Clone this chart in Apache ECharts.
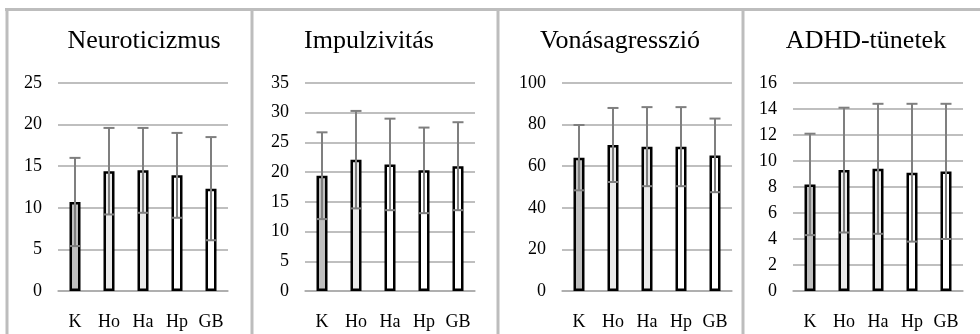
<!DOCTYPE html>
<html>
<head>
<meta charset="utf-8">
<script src="https://cdn.jsdelivr.net/npm/echarts@6/dist/echarts.min.js"></script>
<style>
  html, body { margin: 0; padding: 0; background: #fff; }
  #main { width: 980px; height: 334px; }
</style>
</head>
<body>
<div id="main"></div>
<script>
// csoportok
var groups = ['K', 'Ho', 'Ha', 'Hp', 'GB'];
var titles = ['Neuroticizmus', 'Impulzivitás', 'Vonásagresszió', 'ADHD-tünetek'];

// átlagok és szórások (leolvasva)
var neuroMean = [10.7, 14.4, 14.5, 13.9, 12.3];
var neuroSd   = [5.3, 5.2, 5.1, 5.1, 6.2];
var impMean   = [19.4, 22.1, 21.3, 20.3, 21.0];
var impSd     = [7.3, 8.2, 7.7, 7.2, 7.4];
var aggMean   = [64.1, 70.2, 69.4, 69.4, 65.2];
var aggSd     = [15.7, 17.8, 19.0, 19.0, 17.7];
var adhdMean  = [8.2, 9.3, 9.4, 9.1, 9.2];
var adhdSd    = [3.9, 4.8, 5.0, 5.3, 5.2];

// tengely skálák
var yMax  = [25, 35, 100, 16];
var yStep = [5, 5, 20, 2];

var means = [neuroMean, impMean, aggMean, adhdMean];
var sds = [neuroSd, impSd, aggSd, adhdSd];

var dark = '#bebebe', light = '#eaeaea', white = '#ffffff';
var fills = [
	[dark, light, light, white, white],
	[dark, light, white, white, white],
	[dark, light, light, white, white],
	[dark, light, light, white, white]
];

var gridLeft = [58, 305, 562, 793];
var titleX = [144, 369, 620, 866];
var font = '"Liberation Serif", "Times New Roman", serif';

var dom = document.getElementById('main');
var chart = echarts.init(dom, null, { renderer: 'canvas' });

var option = {
	animation: false,
	backgroundColor: '#fff',
	title: [],
	grid: [],
	xAxis: [],
	yAxis: [],
	series: [],
	graphic: []
};

for (var i = 0; i < 4; i++) {
	option.title.push({
		text: titles[i],
		left: titleX[i],
		top: 28,
		padding: 0,
		textAlign: 'center',
		textStyle: { fontFamily: font, fontSize: 26, fontWeight: 'normal', color: '#000' }
	});
	option.grid.push({
		left: gridLeft[i],
		top: 83,
		width: 170,
		height: 208
	});
	option.xAxis.push({
		type: 'category',
		gridIndex: i,
		data: groups,
		axisLine: { show: true, lineStyle: { color: '#aaaaaa', width: 1.5 } },
		axisTick: { show: false },
		axisLabel: { fontFamily: font, fontSize: 18, color: '#000', margin: 22 }
	});
	option.yAxis.push({
		type: 'value',
		gridIndex: i,
		min: 0,
		max: yMax[i],
		interval: yStep[i],
		axisLine: { show: false },
		axisTick: { show: false },
		splitLine: { lineStyle: { color: '#aaaaaa', width: 1.5 } },
		axisLabel: { fontFamily: font, fontSize: 18, color: '#000', margin: 16 }
	});
	option.series.push({
		type: 'bar',
		xAxisIndex: i,
		yAxisIndex: i,
		barWidth: 11,
		data: means[i].map(function (v, j) {
			return { value: v, itemStyle: { color: fills[i][j] } };
		}),
		itemStyle: { borderColor: '#000', borderWidth: 2.5 },
		z: 2
	});
	option.series.push({
		type: 'custom',
		xAxisIndex: i,
		yAxisIndex: i,
		z: 5,
		data: means[i].map(function (v, j) {
			return [j, v - sds[i][j], v + sds[i][j]];
		}),
		renderItem: function (params, api) {
			var lo = api.coord([api.value(0), api.value(1)]);
			var hi = api.coord([api.value(0), api.value(2)]);
			var hw = 5.5;
			var st = { stroke: '#7f7f7f', lineWidth: 2 };
			return {
				type: 'group',
				children: [
					{ type: 'line', shape: { x1: hi[0], y1: hi[1], x2: lo[0], y2: lo[1] }, style: st },
					{ type: 'line', shape: { x1: hi[0] - hw, y1: hi[1], x2: hi[0] + hw, y2: hi[1] }, style: st },
					{ type: 'line', shape: { x1: lo[0] - hw, y1: lo[1], x2: lo[0] + hw, y2: lo[1] }, style: st }
				]
			};
		}
	});
}

// keret vonalak
var frame = { stroke: '#bdbdbd', lineWidth: 3 };
option.graphic.push({ type: 'line', shape: { x1: 5, y1: 9.5, x2: 980, y2: 9.5 }, style: frame });
option.graphic.push({ type: 'line', shape: { x1: 7, y1: 8, x2: 7, y2: 334 }, style: frame });
[252, 498, 743].forEach(function (x) {
	option.graphic.push({ type: 'line', shape: { x1: x, y1: 8, x2: x, y2: 334 }, style: frame });
});

chart.setOption(option);
</script>
</body>
</html>
